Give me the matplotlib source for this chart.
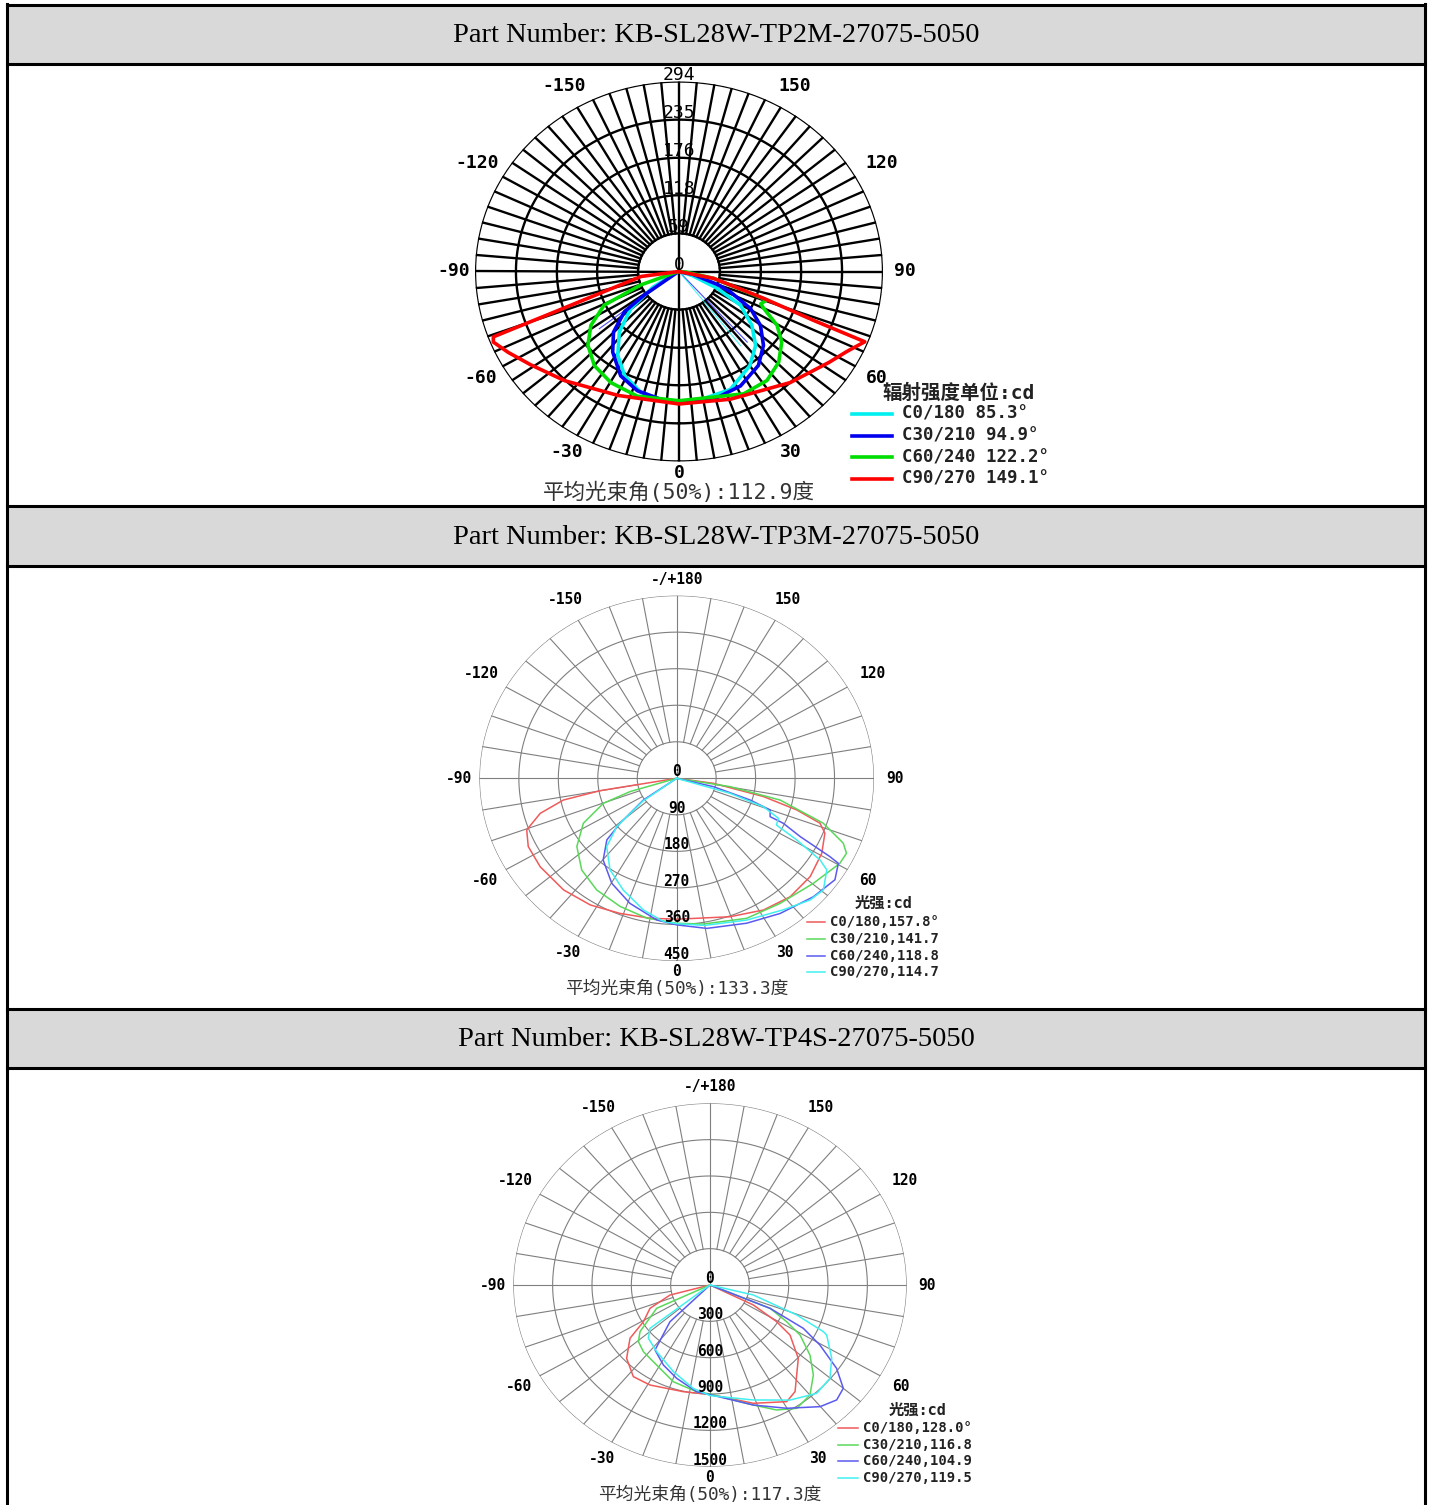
import numpy as np
import matplotlib
matplotlib.use("Agg")
import matplotlib.pyplot as plt
from matplotlib.transforms import offset_copy

W, H = 1431, 1505

part_numbers = ["KB-SL28W-TP2M-27075-5050",
                "KB-SL28W-TP3M-27075-5050",
                "KB-SL28W-TP4S-27075-5050"]
beam_angles = ["112.9", "133.3", "117.3"]
angle_ticks = [-150, -120, -90, -60, -30, 0, 30, 60, 90, 120, 150]

# ---- panel 1 (TP2M), intensity in cd, gamma in degrees
p1_rings = [59, 118, 176, 235, 294]
p1_c0_t = [-90, -65, -57, -50.5, -42.6, -34.2, -26, -16.4, -6, 0, 10, 22, 35, 44, 51.6, 59.5, 64.7, 72, 90]
p1_c0_r = [0, 4, 45, 90, 127, 157, 179, 195, 201, 202, 200, 197, 178, 159, 134, 103, 61, 20, 0]
p1_c30_t = [-90, -58, -54, -51.7, -45.2, -37.5, -27.5, -18, -6, 0, 14.3, 26.6, 38.2, 46.8, 54.6, 60.9, 67, 70, 78, 90]
p1_c30_r = [0, 5, 62, 100, 133, 157, 182, 194, 201, 203, 204, 198, 185, 167, 144, 118, 80, 60, 20, 0]
p1_c60_t = [-90, -72, -69.3, -64.2, -56.7, -49, -39.9, -29.7, -17.3, 0, 26.2, 36.9, 45.6, 53.6, 59.5, 64.9, 67, 70.8, 78, 85, 90]
p1_c60_r = [0, 10, 59, 120, 152, 174, 190, 198, 202, 200, 211, 211, 201, 184, 164, 135, 128, 134, 51, 10, 0]
p1_c90_t = [-90, -82, -73.2, -70.7, -69.3, -67.8, -63, -56, -44.3, -24.7, 0, 20.5, 43, 57, 63, 67.9, 68.7, 71.2, 78, 90]
p1_c90_r = [0, 55, 124, 193, 286, 289, 276, 258, 236, 211, 205, 211, 235, 258, 272, 289, 208, 129, 51, 0]
# thin half-beam marker lines (gamma, length) for C0 and C30
p1_mark_t = [-52.4, 42, 37.7]
p1_mark_r = [145, 147, 145]
p1_labels = ["C0/180 85.3°", "C30/210 94.9°", "C60/240 122.2°", "C90/270 149.1°"]

# ---- panel 2 (TP3M)
p2_rings = [90, 180, 270, 360, 450]
p2_c0_t = [-82, -80.1, -78.3, -74.5, -69.6, -63.6, -55, -43.2, -32.3, -21.2, -10, 0, 19.6, 31.4, 41.6, 51.5, 60.8, 68.2, 71.3, 74.1, 77.2, 81.6, 83]
p2_c0_r = [0, 177, 264, 323, 365, 378, 380, 377, 369, 357, 350, 347, 362, 380, 390, 389, 379, 364, 345, 285, 203, 85, 0]
p2_c30_t = [-73, -72.9, -69.8, -62.5, -53.6, -43.8, -33.6, -22.2, -11.2, 0, 9.6, 24.8, 37.4, 50.3, 60.6, 64.5, 67.2, 71.7, 77.2, 80.4, 82]
p2_c30_r = [0, 111, 178, 240, 283, 313, 330, 341, 351, 357, 364, 380, 388, 405, 427, 429, 412, 352, 242, 123, 0]
p2_c60_t = [-55, -54.9, -49.4, -46.4, -39.8, -29.8, -19.1, -7.4, 0, 10.5, 24.1, 35.3, 46.9, 55.3, 60.4, 61.1, 63, 65.5, 66.1, 69.9, 72.3, 76.2, 78]
p2_c60_r = [0, 93, 170, 220, 262, 298, 326, 352, 361, 376, 391, 408, 427, 439, 424, 399, 316, 267, 233, 227, 176, 86, 0]
p2_c90_t = [-55, -54, -49, -43.5, -34, -23.9, -13.2, -4.9, 0, 10, 24.6, 36.9, 45.4, 50.6, 56.6, 58.4, 61, 63.2, 67, 70.5, 73.1, 74]
p2_c90_r = [0, 95, 181, 232, 272, 301, 333, 354, 358, 368, 384, 405, 427, 433, 410, 384, 313, 255, 252, 210, 127, 0]
p2_labels = ["C0/180,157.8°", "C30/210,141.7", "C60/240,118.8", "C90/270,114.7"]

# ---- panel 3 (TP4S)
p3_rings = [300, 600, 900, 1200, 1500]
p3_c0_t = [-75, -74.8, -67.2, -59.2, -54.2, -46.4, -37.7, -29, -13, 0, 18.7, 31.3, 36.4, 48, 55.9, 59.2, 63.5, 68]
p3_c0_r = [0, 316, 496, 591, 752, 878, 956, 944, 904, 903, 1031, 1127, 1093, 906, 737, 592, 370, 0]
p3_c30_t = [-70, -64.7, -54.2, -49.4, -42.7, -31.6, -19.3, -6.6, 0, 18.4, 26.2, 33, 40, 46.7, 52.8, 59, 62.6, 67.2, 72]
p3_c30_r = [0, 450, 658, 719, 749, 776, 846, 887, 900, 1044, 1150, 1214, 1186, 1083, 957, 801, 658, 497, 0]
p3_c60_t = [-50, -45.2, -38, -28.3, -18.3, -6.6, 0, 18.4, 29.9, 39.9, 45.5, 50, 54.5, 59.4, 63.3, 67.2, 72]
p3_c60_r = [0, 430, 681, 750, 811, 887, 905, 1044, 1174, 1309, 1354, 1327, 1186, 974, 797, 497, 0]
p3_c90_t = [-60, -52, -46.9, -36.5, -21.3, -8.5, 0, 19.2, 32.7, 42.3, 49.9, 56.9, 65.1, 66, 69.5, 76, 78]
p3_c90_r = [0, 581, 644, 684, 768, 863, 913, 1005, 1129, 1209, 1196, 1108, 981, 946, 706, 341, 0]
p3_labels = ["C0/180,128.0°", "C30/210,116.8", "C60/240,104.9", "C90/270,119.5"]

MONO = ["DejaVu Sans Mono", "Noto Sans CJK SC"]
# how far out each angle label sits, as a fraction of the outer ring
label_out = {0: 1.06, 30: 1.10, 60: 1.12, 90: 1.105, 120: 1.145, 150: 1.13, 180: 1.09}

fig = plt.figure(figsize=(W / 100, H / 100), dpi=100)
bg = fig.add_axes([0, 0, 1, 1])
bg.set_xlim(0, W)
bg.set_ylim(H, 0)
bg.axis("off")

# table frame with grey header rows
header_rows = [(4.5, 63.5), (506, 566), (1008.5, 1068)]
for (y0, y1), pn in zip(header_rows, part_numbers):
    bg.add_patch(plt.Rectangle((6.5, y0), 1418, y1 - y0, facecolor="#d9d9d9", edgecolor="none"))
    bg.plot([6.5, 1424.5], [y0, y0], color="black", lw=2.2)
    bg.plot([6.5, 1424.5], [y1, y1], color="black", lw=2.2)
    bg.text(716, (y0 + y1) / 2 + 1, "Part Number: " + pn, ha="center", va="center",
            fontsize=20.5, family="Liberation Serif")
bg.plot([6.5, 6.5], [3.5, H], color="black", lw=2.2)
bg.plot([1424.5, 1424.5], [3.5, H], color="black", lw=2.2)


def polar_panel(cx, cy, rx, ry, rings, step, gcolor, glw, r_side, fs, rfs, show_180):
    ax = fig.add_axes([(cx - rx) / W, 1 - (cy + ry) / H, 2 * rx / W, 2 * ry / H],
                      projection="polar")
    ax.set_aspect("auto")
    ax.set_theta_zero_location("S")
    ax.set_theta_direction(1)
    rmax = rings[-1]
    ax.set_ylim(0, rmax)
    ax.set_xticks([])
    ax.set_yticks([])
    ax.grid(False)
    ax.spines["polar"].set_visible(False)
    ax.patch.set_alpha(0)
    full = np.linspace(0, 2 * np.pi, 721)
    for r in rings:
        ax.plot(full, np.full_like(full, r), color=gcolor, lw=glw, zorder=1)
    for a in range(0, 360, step):
        r0 = 0 if a % 90 == 0 else rings[0]
        ax.plot([np.radians(a)] * 2, [r0, rmax], color=gcolor, lw=glw, zorder=1)
    # angle labels
    for a in angle_ticks:
        ax.text(np.radians(a), rmax * label_out[abs(a)], str(a), ha="center", va="center",
                fontsize=fs, family=MONO, weight="bold", clip_on=False)
    if show_180:
        ax.text(np.pi, rmax * label_out[180], "-/+180", ha="center", va="center",
                fontsize=fs, family=MONO, weight="bold", clip_on=False)
    # intensity labels, sitting just above each ring
    th = np.radians(r_side)
    tr = offset_copy(ax.transData, fig=fig, x=0, y=6.5, units="dots")
    wt = "bold" if r_side == 0 else "normal"
    for r in [0] + rings:
        ax.text(th, r, str(r), ha="center", va="center", fontsize=rfs, family=MONO,
                weight=wt, transform=tr, zorder=4)
    return ax


def legend_block(x, y, dy, title, tx, ty, labels, colors, lw, fs, tfs, line_len, gap):
    bg.text(tx, ty, title, ha="center", va="center", fontsize=tfs,
            family=MONO, weight="bold", color="#222222")
    for i, (lab, c) in enumerate(zip(labels, colors)):
        yy = y + i * dy
        bg.plot([x, x + line_len], [yy, yy], color=c, lw=lw)
        bg.text(x + line_len + gap, yy, lab, ha="left", va="center", fontsize=fs,
                family=MONO, weight="bold", color="#222222")


# panel 1
c1 = ["#00f0f0", "#0000ee", "#00dd00", "#ff0000"]
ax1 = polar_panel(679, 271.5, 204, 190, p1_rings, 5, "black", 1.7, 180, 13, 13, False)
for t, r, c in zip([p1_c0_t, p1_c30_t, p1_c60_t, p1_c90_t],
                   [p1_c0_r, p1_c30_r, p1_c60_r, p1_c90_r], c1):
    ax1.plot(np.radians(t), r, color=c, lw=2.6, zorder=3)
for t, r, c in zip(p1_mark_t, p1_mark_r, [c1[1], c1[1], c1[0]]):
    ax1.plot([np.radians(t)] * 2, [0, r], color=c, lw=0.8, alpha=0.7, zorder=2)
bg.text(679, 492, "平均光束角(50%):" + beam_angles[0] + "度", ha="center", va="center",
        fontsize=15.5, family=MONO, color="#333333")
legend_block(852, 414, 21.5, "辐射强度单位:cd", 959, 393, p1_labels, c1, 2.6, 12.5, 14, 40, 10)

# panel 2
c2 = ["#f05a5a", "#5ad85a", "#5a5af0", "#40f0f0"]
ax2 = polar_panel(676.7, 778.3, 197.3, 182.7, p2_rings, 10, "#7f7f7f", 0.8, 0, 10.5, 10.5, True)
for t, r, c in zip([p2_c0_t, p2_c30_t, p2_c60_t, p2_c90_t],
                   [p2_c0_r, p2_c30_r, p2_c60_r, p2_c90_r], c2):
    ax2.plot(np.radians(t), r, color=c, lw=1.1, zorder=3)
bg.text(677, 989, "平均光束角(50%):" + beam_angles[1] + "度", ha="center", va="center",
        fontsize=12.8, family=MONO, color="#333333")
legend_block(807, 922, 16.8, "光强:cd", 884, 903, p2_labels, c2, 1.1, 10, 11, 18, 5)

# panel 3
ax3 = polar_panel(710, 1285, 196.7, 181.7, p3_rings, 10, "#7f7f7f", 0.8, 0, 10.5, 10.5, True)
for t, r, c in zip([p3_c0_t, p3_c30_t, p3_c60_t, p3_c90_t],
                   [p3_c0_r, p3_c30_r, p3_c60_r, p3_c90_r], c2):
    ax3.plot(np.radians(t), r, color=c, lw=1.1, zorder=3)
bg.text(710, 1495, "平均光束角(50%):" + beam_angles[2] + "度", ha="center", va="center",
        fontsize=12.8, family=MONO, color="#333333")
legend_block(838, 1428, 16.7, "光强:cd", 918, 1410, p3_labels, c2, 1.1, 10, 11, 20, 5)

fig.savefig("out.png", dpi=100)
